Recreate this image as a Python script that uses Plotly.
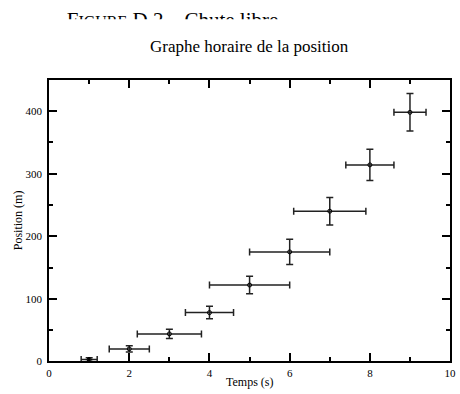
import plotly.graph_objects as go

# Data
temps = [1, 2, 3, 4, 5, 6, 7, 8, 9]
position = [3, 20, 44, 78, 122, 175, 240, 314, 398]
err_temps = [0.2, 0.5, 0.8, 0.6, 1.0, 1.0, 0.9, 0.6, 0.4]
err_position = [3, 5, 7.5, 10, 14, 20, 22, 25, 30]

title = "Graphe horaire de la position"
xlabel = "Temps (s)"
ylabel = "Position (m)"
caption = "F<span style='font-size:16px'>IGURE</span> D.2 – Chute libre"

W, H = 460, 394
L, R, T, B = 47, 456, 81, 367
SERIF = "Liberation Serif, Times New Roman, serif"

fig = go.Figure()

fig.add_trace(go.Scatter(
    x=temps, y=position, mode="markers",
    marker=dict(symbol="circle-open", size=4, color="black", line=dict(width=1)),
    error_x=dict(type="data", array=err_temps, color="#222", thickness=1.5, width=3.5),
    error_y=dict(type="data", array=err_position, color="#222", thickness=1.5, width=3.5),
    xaxis="x", yaxis="y", showlegend=False,
))

# clipped caption at top of page (partial, as in the reference)
fig.add_trace(go.Scatter(
    x=[65], y=[11.6], mode="text", text=[caption], textposition="bottom right",
    textfont=dict(family=SERIF, size=21, color="black"),
    cliponaxis=True, xaxis="x2", yaxis="y2", showlegend=False, hoverinfo="skip",
))

axis_common = dict(
    showgrid=False, zeroline=False, showline=True, linecolor="black", linewidth=2,
    ticks="inside", ticklen=8, tickwidth=1.5, tickcolor="black", mirror="allticks",
    tickfont=dict(family=SERIF, size=11, color="black"), ticklabeloverflow="allow",
)

fig.update_layout(
    width=W, height=H,
    margin=dict(l=0, r=0, t=0, b=0),
    paper_bgcolor="white", plot_bgcolor="white",
    xaxis=dict(domain=[L / W, R / W], range=[0, 10], dtick=2, tick0=0,
               minor=dict(dtick=1, ticks="inside", ticklen=4, tickwidth=1.5, tickcolor="black", showgrid=False),
               anchor="y", **axis_common),
    yaxis=dict(domain=[(H - B) / H, (H - T) / H], range=[0, 450], dtick=100, tick0=0,
               minor=dict(dtick=50, ticks="inside", ticklen=4, tickwidth=1.5, tickcolor="black", showgrid=False),
               anchor="x", ticklabelstandoff=3, **axis_common),
    xaxis2=dict(domain=[0, 1], range=[0, W], visible=False, anchor="y2"),
    yaxis2=dict(domain=[(H - 19.5) / H, 1], range=[19.5, 0], visible=False, anchor="x2"),
    annotations=[
        dict(text=title, x=(L + R) / 2 / W, y=(H - 47) / H, xref="paper", yref="paper",
             xanchor="center", yanchor="middle", showarrow=False,
             font=dict(family=SERIF, size=17, color="black")),
        dict(text=xlabel, x=(L + R) / 2 / W, y=(H - 388) / H, xref="paper", yref="paper",
             xanchor="center", yanchor="middle", showarrow=False,
             font=dict(family=SERIF, size=12, color="black")),
        dict(text=ylabel, x=15 / W, y=(H - 224) / H, xref="paper", yref="paper",
             xanchor="center", yanchor="middle", showarrow=False, textangle=-90,
             font=dict(family=SERIF, size=12, color="black")),
    ],
)

fig.write_html("out.html", config={"displayModeBar": False},
               post_script="document.body.style.margin='0px';")
